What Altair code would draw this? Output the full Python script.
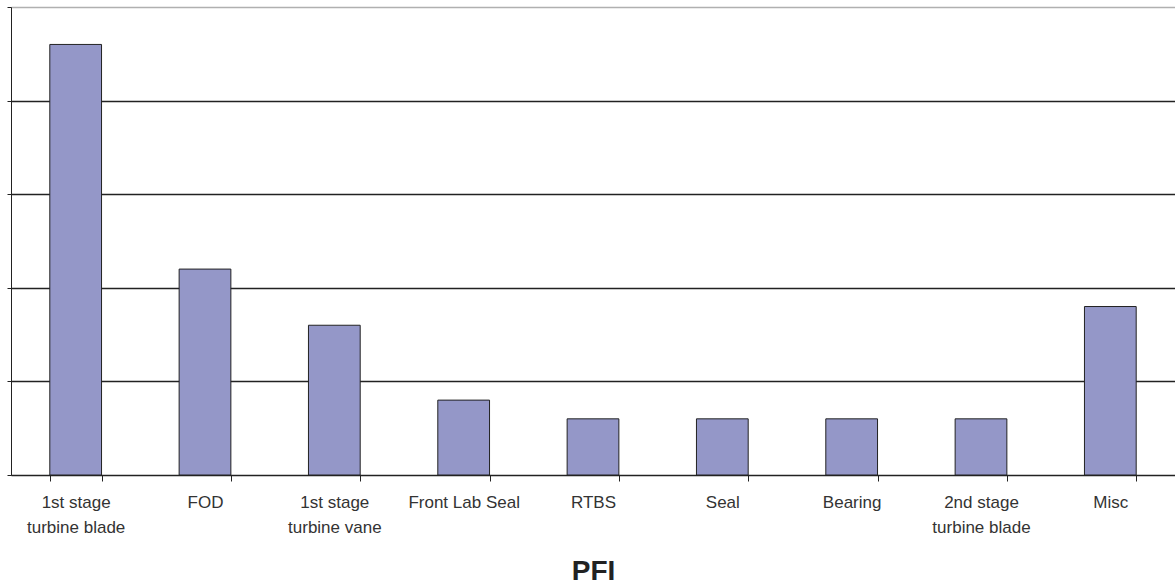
import altair as alt
import pandas as pd

categories = ["1st stage|turbine blade", "FOD", "1st stage|turbine vane", "Front Lab Seal",
              "RTBS", "Seal", "Bearing", "2nd stage|turbine blade", "Misc"]
values = [23, 11, 8, 4, 3, 3, 3, 3, 9]

df = pd.DataFrame({"cat": categories, "val": values})

chart = alt.Chart(df).mark_bar(color="#9497C8", stroke="#222222", strokeWidth=1).encode(
    x=alt.X("cat:N", sort=categories,
            scale=alt.Scale(paddingInner=0.6, paddingOuter=0.3),
            axis=alt.Axis(title="PFI", labelAngle=0, tickBand="extent",
                          labelExpr="split(datum.label, '|')",
                          labelFont="Liberation Sans", labelFontSize=17, labelColor="#333333",
                          labelLineHeight=25, labelPadding=13,
                          titleFont="Liberation Sans", titleFontSize=28, titleFontWeight="bold",
                          titleColor="#222222", titlePadding=22,
                          domainColor="#222222", tickColor="#222222", tickSize=6)),
    y=alt.Y("val:Q", scale=alt.Scale(domain=[0, 25], nice=False),
            axis=alt.Axis(title=None, labels=False, values=[0, 5, 10, 15, 20, 25],
                          grid=True,
                          gridColor={"condition": {"test": "datum.value == 25", "value": "#b0b0b0"},
                                     "value": "#222222"},
                          gridWidth=1.3,
                          domainColor="#222222", tickColor="#222222", tickSize=4)),
).properties(
    width=1164, height=468,
    autosize=alt.AutoSizeParams(type="none"),
    padding={"left": 11, "top": 7, "right": 0, "bottom": 111},
).configure_view(stroke=None).configure(background="white")

chart.save("out.html", embed_options={"renderer": "svg", "actions": False})
